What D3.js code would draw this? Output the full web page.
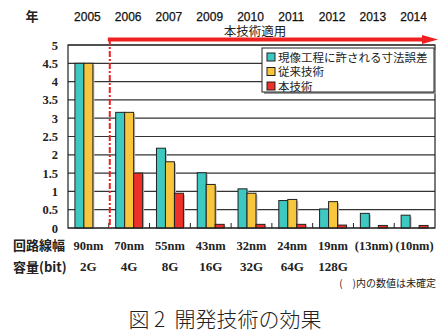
<!DOCTYPE html>
<html>
<head>
<meta charset="utf-8">
<script src="https://cdn.jsdelivr.net/npm/d3@7"></script>
<style>
  body { margin: 0; background: #fff; }
  svg { display: block; }
  .num { font-family: "Liberation Serif", serif; font-weight: bold; font-size: 12.5px; fill: #222; }
  .yr { font-family: "Liberation Sans", Arial, sans-serif; font-size: 12px; fill: #111; stroke: #111; stroke-width: 0.25px; }
  .jp { font-family: "Noto Sans CJK JP", sans-serif; fill: #222; }
</style>
</head>
<body>
<div id="chart"></div>
<script>
// ----- data -----
var years = ["2005", "2006", "2007", "2009", "2010", "2011", "2012", "2013", "2014"];
var lineWidths = ["90nm", "70nm", "55nm", "43nm", "32nm", "24nm", "19nm", "(13nm)", "(10nm)"];
var capacities = ["2G", "4G", "8G", "16G", "32G", "64G", "128G", "", ""];
var yTicks = [0, 0.5, 1, 1.5, 2, 2.5, 3, 3.5, 4, 4.5, 5];

var seriesNames = ["現像工程に許される寸法誤差", "従来技術", "本技術"];
var seriesColors = ["#3ec8c2", "#f8c63c", "#ee3029"];
var tolerance    = [4.5, 3.16, 2.18, 1.51, 1.07, 0.75, 0.52, 0.40, 0.35];
var conventional = [4.5, 3.16, 1.81, 1.19, 0.95, 0.78, 0.72, null, null];
var proposed     = [null, 1.5, 0.95, 0.10, 0.10, 0.10, 0.08, 0.07, 0.07];
var seriesValues = [tolerance, conventional, proposed];

// ----- layout -----
var W = 448, H = 336;
var plot = {left: 68, right: 435, top: 45, bottom: 228};

var svg = d3.select("#chart").append("svg")
    .attr("width", W)
    .attr("height", H);

var xScale = d3.scaleBand()
    .domain(years)
    .range([plot.left, plot.right])
    .padding(0);

var xInner = d3.scaleBand()
    .domain(seriesNames)
    .range([0, xScale.bandwidth()])
    .paddingInner(0)
    .paddingOuter(0.77);

var yScale = d3.scaleLinear()
    .domain([0, 5])
    .range([plot.bottom, plot.top]);

// gridlines
svg.append("g").selectAll("line")
    .data(yTicks)
    .enter()
    .append("line")
    .attr("x1", plot.left)
    .attr("x2", plot.right)
    .attr("y1", d => yScale(d))
    .attr("y2", d => yScale(d))
    .style("stroke", "#333")
    .style("stroke-width", 1.2);

// y labels
svg.append("g").selectAll("text")
    .data(yTicks)
    .enter()
    .append("text")
    .attr("class", "num")
    .attr("x", 58)
    .attr("y", d => yScale(d) + 4.5)
    .attr("text-anchor", "end")
    .text(d => d);

// small ticks at band boundaries
svg.append("g").selectAll("line")
    .data(years.slice(1))
    .enter()
    .append("line")
    .attr("x1", d => xScale(d))
    .attr("x2", d => xScale(d))
    .attr("y1", plot.bottom)
    .attr("y2", plot.bottom - 5)
    .style("stroke", "#222")
    .style("stroke-width", 1);

// bars (with a soft grey shadow like the original)
seriesValues.forEach(function(vals, si) {
    var rows = years.map((y, i) => ({year: y, v: vals[i]})).filter(d => d.v != null);
    svg.append("g").selectAll("rect.shadow")
        .data(rows)
        .enter()
        .append("rect")
        .attr("x", d => xScale(d.year) + xInner(seriesNames[si]) + 1.5)
        .attr("y", d => yScale(d.v) + 1.5)
        .attr("width", xInner.bandwidth())
        .attr("height", d => plot.bottom - yScale(d.v) - 1.5)
        .style("fill", "#bbb");
    svg.append("g").selectAll("rect.bar")
        .data(rows)
        .enter()
        .append("rect")
        .attr("x", d => xScale(d.year) + xInner(seriesNames[si]))
        .attr("y", d => yScale(d.v))
        .attr("width", xInner.bandwidth())
        .attr("height", d => plot.bottom - yScale(d.v))
        .style("fill", seriesColors[si])
        .style("stroke", "#222")
        .style("stroke-width", 1);
});

// plot frame
svg.append("rect")
    .attr("x", plot.left)
    .attr("y", plot.top)
    .attr("width", plot.right - plot.left)
    .attr("height", plot.bottom - plot.top)
    .style("fill", "none")
    .style("stroke", "#222")
    .style("stroke-width", 1.2);

// red dash-dot line where the technique starts
var startX = xScale("2006");
svg.append("line")
    .attr("x1", startX + 1)
    .attr("x2", startX + 1)
    .attr("y1", 39)
    .attr("y2", plot.bottom)
    .style("stroke", "#ee2020")
    .style("stroke-width", 2)
    .style("stroke-dasharray", "6,2,2,2");

// red arrow
svg.append("line")
    .attr("x1", startX - 1)
    .attr("x2", 425)
    .attr("y1", 39.5)
    .attr("y2", 39.5)
    .style("stroke", "#ee2020")
    .style("stroke-width", 4);
svg.append("path")
    .attr("d", "M422,35 L438,39.5 L422,44 Z")
    .style("fill", "#ee2020");

svg.append("text")
    .attr("class", "jp")
    .attr("x", 255)
    .attr("y", 35.5)
    .attr("text-anchor", "middle")
    .style("font-size", "12.5px")
    .text("本技術適用");

// top: years
svg.append("text")
    .attr("class", "jp")
    .attr("x", 32)
    .attr("y", 21)
    .attr("text-anchor", "middle")
    .style("font-size", "13px")
    .style("font-weight", "bold")
    .text("年");

svg.append("g").selectAll("text")
    .data(years)
    .enter()
    .append("text")
    .attr("class", "yr")
    .attr("x", d => xScale(d) + xScale.bandwidth() / 2 - 1)
    .attr("y", 20.5)
    .attr("text-anchor", "middle")
    .text(d => d);

// bottom rows
svg.append("text")
    .attr("class", "jp")
    .attr("x", 13)
    .attr("y", 250)
    .style("font-size", "13px")
    .style("font-weight", "bold")
    .text("回路線幅");

svg.append("text")
    .attr("class", "jp")
    .attr("x", 13)
    .attr("y", 271.5)
    .style("font-size", "13px")
    .style("font-weight", "bold")
    .text("容量(bit)");

svg.append("g").selectAll("text")
    .data(lineWidths)
    .enter()
    .append("text")
    .attr("class", "num")
    .attr("x", (d, i) => xScale(years[i]) + xScale.bandwidth() / 2)
    .attr("y", 249.5)
    .attr("text-anchor", "middle")
    .text(d => d);

svg.append("g").selectAll("text")
    .data(capacities)
    .enter()
    .append("text")
    .attr("class", "num")
    .attr("x", (d, i) => xScale(years[i]) + xScale.bandwidth() / 2)
    .attr("y", 271)
    .attr("text-anchor", "middle")
    .style("font-size", "13px")
    .text(d => d);

svg.append("text")
    .attr("class", "jp")
    .attr("x", 436)
    .attr("y", 287)
    .attr("text-anchor", "end")
    .style("font-size", "10px")
    .style("white-space", "pre")
    .text("(　)内の数値は未確定");

// legend
var legend = svg.append("g").attr("transform", "translate(262,48)");
legend.append("rect")
    .attr("x", 2).attr("y", 2)
    .attr("width", 172).attr("height", 44)
    .style("fill", "#999");
legend.append("rect")
    .attr("width", 172).attr("height", 44)
    .style("fill", "#fff")
    .style("stroke", "#222")
    .style("stroke-width", 1);

legend.selectAll("rect.key")
    .data(seriesNames)
    .enter()
    .append("rect")
    .attr("x", 5)
    .attr("y", (d, i) => 5 + i * 14.5)
    .attr("width", 8)
    .attr("height", 8)
    .style("fill", (d, i) => seriesColors[i])
    .style("stroke", "#222")
    .style("stroke-width", 1);

legend.selectAll("text")
    .data(seriesNames)
    .enter()
    .append("text")
    .attr("class", "jp")
    .attr("x", 16)
    .attr("y", (d, i) => 13.5 + i * 14.5)
    .style("font-size", "11.5px")
    .text(d => d);

// caption
svg.append("text")
    .attr("class", "jp")
    .attr("x", 225)
    .attr("y", 327)
    .attr("text-anchor", "middle")
    .style("font-size", "21px")
    .style("font-weight", "300")
    .style("white-space", "pre")
    .text("図 2  開発技術の効果");
</script>
</body>
</html>
